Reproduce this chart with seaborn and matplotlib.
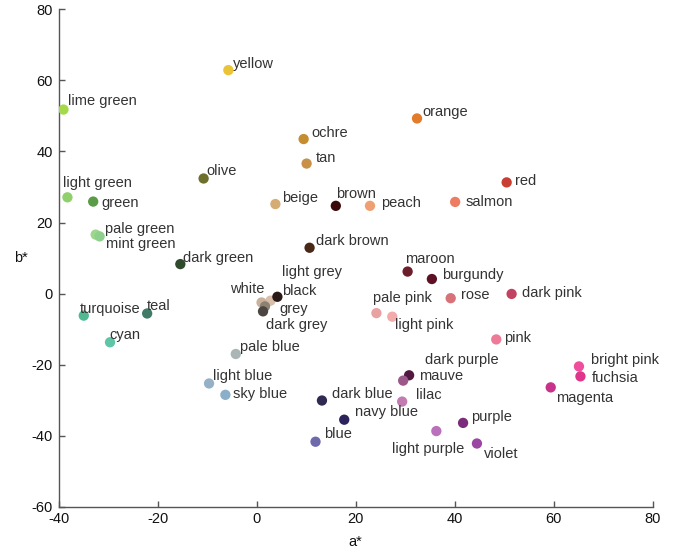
import matplotlib
matplotlib.use("Agg")
import matplotlib.pyplot as plt
import seaborn as sns
import pandas as pd

names = ["yellow", "lime green", "orange", "ochre", "tan", "olive", "red",
         "light green", "green", "beige", "brown", "peach", "salmon",
         "pale green", "mint green", "dark brown", "dark green", "maroon",
         "burgundy", "dark pink", "rose", "pale pink", "light pink", "pink",
         "light grey", "white", "black", "grey", "dark grey", "turquoise",
         "teal", "cyan", "pale blue", "light blue", "sky blue", "dark blue",
         "navy blue", "blue", "dark purple", "mauve", "lilac", "purple",
         "light purple", "violet", "bright pink", "fuchsia", "magenta"]

a_star = [-5.7, -39.0, 32.4, 9.5, 10.1, -10.7, 50.5,
          -38.2, -33.0, 3.8, 16.0, 22.9, 40.1,
          -32.5, -31.7, 10.7, -15.4, 30.5,
          35.4, 51.5, 39.2, 24.2, 27.4, 48.4,
          2.8, 1.0, 4.2, 1.7, 1.3, -34.9,
          -22.1, -29.6, -4.2, -9.6, -6.3, 13.2,
          17.7, 11.9, 30.8, 29.6, 29.4, 41.7,
          36.3, 44.5, 65.1, 65.4, 59.4]

b_star = [62.9, 51.8, 49.3, 43.5, 36.6, 32.4, 31.3,
          27.1, 25.9, 25.2, 24.7, 24.7, 25.8,
          16.6, 16.1, 12.9, 8.3, 6.2,
          4.1, -0.1, -1.3, -5.5, -6.5, -12.9,
          -2.0, -2.5, -0.9, -3.6, -5.0, -6.2,
          -5.6, -13.7, -17.0, -25.3, -28.5, -30.1,
          -35.5, -41.7, -23.0, -24.5, -30.4, -36.4,
          -38.7, -42.2, -20.5, -23.3, -26.4]

colors = ["#EAC436", "#A6D84C", "#E27C2A", "#C68C30", "#C99148", "#6F6F2C", "#C93E32",
          "#8FD06C", "#5A9B48", "#D4AC74", "#3A0808", "#EEA072", "#ED7C62",
          "#9CD88C", "#8ECF8E", "#4A2818", "#2E4B2B", "#6E1E2B",
          "#5E1025", "#C24262", "#D87279", "#E9A2A2", "#F2AAAA", "#EF7A98",
          "#D9BEAA", "#C9B19B", "#2A1816", "#8C8272", "#4B4641", "#50B992",
          "#3F7B67", "#5EC5A6", "#AAB5B5", "#96B1C5", "#8CAFC9", "#312951",
          "#2B2359", "#6D69AB", "#511842", "#9B598A", "#C27CB2", "#7B2B7C",
          "#BA70BA", "#9B46A2", "#EF4E9F", "#DD368A", "#C9328B"]

# label placement: (dx, dy) in pixels from point (image coords, y down), alignment
label_pos = {
    "yellow": (5, -6, "left"), "lime green": (5, -9, "left"), "orange": (5, -6, "left"),
    "ochre": (8, -6, "left"), "tan": (9, -6, "left"), "olive": (3, -7, "left"),
    "red": (8, -1, "left"), "light green": (-4, -14, "left"), "green": (8, 1, "left"),
    "beige": (7, -6, "left"), "brown": (0, -12, "left"), "peach": (11, -3, "left"),
    "salmon": (10, 0, "left"), "pale green": (9, -6, "left"), "mint green": (6, 8, "left"),
    "dark brown": (6, -7, "left"), "dark green": (3, -6, "left"), "maroon": (-3, -13, "left"),
    "burgundy": (10, -4, "left"), "dark pink": (10, -1, "left"), "rose": (10, -3, "left"),
    "pale pink": (-3, -15, "left"), "light pink": (3, 8, "left"), "pink": (8, -1, "left"),
    "light grey": (12, -29, "left"), "white": (3, -13, "right"), "black": (5, -6, "left"),
    "grey": (14, 3, "left"), "dark grey": (3, 14, "left"), "turquoise": (-4, -7, "left"),
    "teal": (0, -7, "left"), "cyan": (-1, -7, "left"), "pale blue": (4, -7, "left"),
    "light blue": (4, -7, "left"), "sky blue": (8, -1, "left"), "dark blue": (10, -7, "left"),
    "navy blue": (11, -8, "left"), "blue": (9, -8, "left"), "dark purple": (16, -15, "left"),
    "mauve": (16, -5, "left"), "lilac": (14, -7, "left"), "purple": (8, -6, "left"),
    "light purple": (-8, 18, "center"), "violet": (7, 10, "left"),
    "bright pink": (12, -6, "left"), "fuchsia": (11, 2, "left"), "magenta": (5, 11, "left"),
}

df = pd.DataFrame({"name": names, "a": a_star, "b": b_star})
palette = dict(zip(names, colors))

sns.set_style("ticks")
plt.rcParams["font.family"] = ["Liberation Sans", "DejaVu Sans"]
plt.rcParams["axes.unicode_minus"] = False

fig = plt.figure(figsize=(6.75, 5.52), dpi=100)
ax = fig.add_axes([0.0867, 0.082, 0.967 - 0.0867, 0.983 - 0.082])

sns.scatterplot(data=df, x="a", y="b", hue="name", palette=palette, s=55,
                linewidth=0, legend=False, ax=ax, zorder=3)

for n, x, y in zip(names, a_star, b_star):
    dx, dy, ha = label_pos[n]
    ax.annotate(n, (x, y), xytext=(dx, -dy), textcoords="offset pixels",
                ha=ha, va="center", fontsize=10.5, color="#333333", zorder=4)

ax.set_xlim(-40, 80)
ax.set_ylim(-60, 80)
ax.set_xticks(range(-40, 81, 20))
ax.set_yticks(range(-60, 81, 20))
ax.tick_params(direction="in", length=4, width=1, colors="#555555",
               labelcolor="#111111", labelsize=10.5, pad=4)
for side in ["top", "right"]:
    ax.spines[side].set_visible(False)
for side in ["left", "bottom"]:
    ax.spines[side].set_color("#555555")
    ax.spines[side].set_linewidth(1)

ax.set_xlabel("a*", fontsize=10.5, color="#111111", labelpad=6)
ax.set_ylabel("b*", fontsize=10.5, color="#111111", rotation=0, labelpad=8, va="center")

fig.savefig("out.png", dpi=100)
